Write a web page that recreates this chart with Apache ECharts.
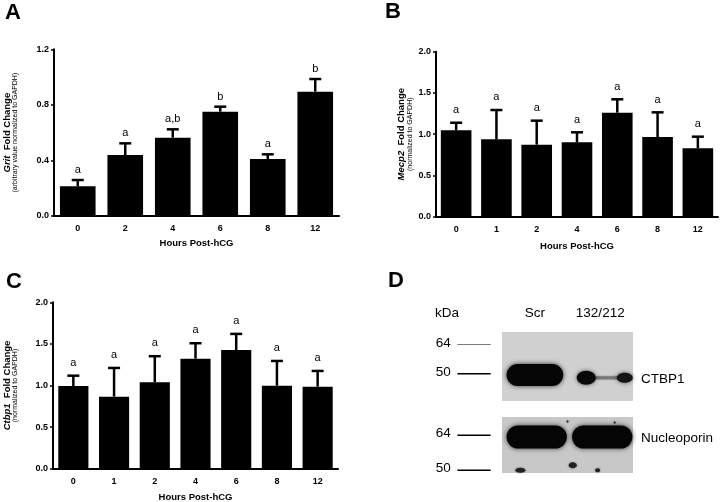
<!DOCTYPE html>
<html>
<head>
<meta charset="utf-8">
<script src="https://cdn.jsdelivr.net/npm/echarts@6/dist/echarts.min.js"></script>
<style>html,body{margin:0;padding:0;background:#fff;}#chart{width:720px;height:502px;}</style>
</head>
<body>
<div id="chart"></div>
<script>
// ---- data ----
const hoursA = ['0', '2', '4', '6', '8', '12'];
const gritMean = [0.214, 0.439, 0.564, 0.751, 0.410, 0.895];
const gritSem = [0.045, 0.084, 0.060, 0.036, 0.034, 0.091];
const gritLetters = ['a', 'a', 'a,b', 'b', 'a', 'b'];

const hoursBC = ['0', '1', '2', '4', '6', '8', '12'];
const mecp2Mean = [1.047, 0.938, 0.873, 0.901, 1.261, 0.966, 0.829];
const mecp2Sem = [0.092, 0.355, 0.291, 0.122, 0.162, 0.299, 0.141];
const mecp2Letters = ['a', 'a', 'a', 'a', 'a', 'a', 'a'];

const ctbp1Mean = [0.994, 0.866, 1.039, 1.323, 1.427, 0.998, 0.986];
const ctbp1Sem = [0.124, 0.345, 0.313, 0.185, 0.193, 0.297, 0.189];
const ctbp1Letters = ['a', 'a', 'a', 'a', 'a', 'a', 'a'];

const lanes = ['Scr', '132/212'];
const kdaMarkers = [64, 50];
const proteinNames = ['CTBP1', 'Nucleoporin'];
const ctbp1BandKda = [49.4, 48.1];
const ctbp1Intensity = [1.0, 0.3];
const nupBandKda = [63.3, 63.3];
const nupIntensity = [1.0, 1.0];

// ---- helpers ----
const FF = '"Liberation Sans", Arial, Helvetica, sans-serif';

function errSeries(xi, means, sems, letters, offset) {
  return {
    type: 'custom', xAxisIndex: xi, yAxisIndex: xi, z: 5, silent: true,
    data: means.map((m, i) => [i, m, m + sems[i]]),
    encode: { x: 0, y: [1, 2] },
    renderItem: function (params, api) {
      const p0 = api.coord([api.value(0), api.value(1)]);
      const p1 = api.coord([api.value(0), api.value(2)]);
      return {
        type: 'group', children: [
          { type: 'line', shape: { x1: p0[0], y1: p0[1], x2: p1[0], y2: p1[1] }, style: { stroke: '#000', lineWidth: 2.5 } },
          { type: 'line', shape: { x1: p1[0] - 6, y1: p1[1], x2: p1[0] + 6, y2: p1[1] }, style: { stroke: '#000', lineWidth: 2.5 } },
          { type: 'text', x: p1[0], y: p1[1] - offset, style: { text: letters[params.dataIndex], align: 'center', verticalAlign: 'middle', font: '11px ' + FF, fill: '#000' } }
        ]
      };
    }
  };
}

function barSeries(xi, means, w) {
  return { type: 'bar', xAxisIndex: xi, yAxisIndex: xi, data: means, barWidth: w, itemStyle: { color: '#000' }, silent: true, z: 3 };
}

function xAx(gi, cats, gap) {
  return {
    gridIndex: gi, type: 'category', data: cats,
    axisLine: { show: true, lineStyle: { color: '#000', width: 2 } },
    axisTick: { show: false },
    axisLabel: { fontSize: 9, fontWeight: 'bold', color: '#000', fontFamily: FF, margin: 8 },
    name: 'Hours Post-hCG', nameLocation: 'middle', nameGap: gap,
    nameTextStyle: { fontSize: 9.5, fontWeight: 'bold', color: '#000', fontFamily: FF }
  };
}

function yAx(gi, max, interval, gene, sub, gap) {
  return {
    gridIndex: gi, type: 'value', min: 0, max: max, interval: interval,
    axisLine: { show: true, lineStyle: { color: '#000', width: 2 } },
    axisTick: { show: true, length: 3, lineStyle: { color: '#000', width: 1.5 } },
    axisLabel: { formatter: v => v.toFixed(1), fontSize: 9, fontWeight: 'bold', color: '#000', fontFamily: FF, margin: 5 },
    splitLine: { show: false },
    name: '{it|' + gene + '}{b|  Fold Change}\n{s|' + sub + '}',
    nameLocation: 'middle', nameRotate: 90, nameGap: gap,
    nameTextStyle: {
      color: '#000', fontFamily: FF,
      rich: {
        it: { fontStyle: 'italic', fontWeight: 'bold', fontSize: 9.5, lineHeight: 10, fontFamily: FF, color: '#000' },
        b: { fontWeight: 'bold', fontSize: 9.5, lineHeight: 10, fontFamily: FF, color: '#000' },
        s: { fontSize: 7, lineHeight: 7, fontFamily: FF, color: '#000' }
      }
    }
  };
}

// blot background
function blotBg(gi, color, specks) {
  return {
    type: 'custom', xAxisIndex: gi, yAxisIndex: gi, z: 1, silent: true,
    data: [[0, 60]],
    renderItem: function (params, api) {
      const cs = params.coordSys;
      const ch = [{ type: 'rect', shape: { x: cs.x, y: cs.y, width: cs.width, height: cs.height }, style: { fill: color } }];
      (specks || []).forEach(s => ch.push({ type: 'ellipse', shape: { cx: cs.x + s[0] * cs.width, cy: cs.y + s[1] * cs.height, rx: s[2], ry: s[3] }, style: { fill: '#222', shadowBlur: 2, shadowColor: 'rgba(0,0,0,0.5)' } }));
      return { type: 'group', children: ch };
    }
  };
}

function blotMarkers(gi, thinFirst) {
  return {
    type: 'custom', xAxisIndex: gi, yAxisIndex: gi, z: 2, silent: true,
    data: kdaMarkers.map(k => [0, k]),
    renderItem: function (params, api) {
      const cs = params.coordSys;
      const y = api.coord([0, api.value(1)])[1];
      const thin = thinFirst && params.dataIndex === 0;
      return {
        type: 'group', children: [
          { type: 'line', shape: { x1: cs.x - 44.6, y1: y, x2: cs.x - 11.3, y2: y }, style: { stroke: thin ? '#777' : '#000', lineWidth: thin ? 1 : 1.4 } },
          { type: 'text', x: cs.x - 51.3, y: y - 1.5, style: { text: String(api.value(1)), align: 'right', verticalAlign: 'middle', font: '13.5px ' + FF, fill: '#000' } }
        ]
      };
    }
  };
}

function blotBands(gi, kda, intensity, name, halfL, halfR, h) {
  return {
    type: 'custom', xAxisIndex: gi, yAxisIndex: gi, z: 3, silent: true,
    data: kda.map((k, i) => [i, k, intensity[i]]),
    renderItem: function (params, api) {
      const cs = params.coordSys;
      const p = api.coord([api.value(0), api.value(1)]);
      const w = api.size([1, 0])[0];
      const inten = api.value(2);
      const ch = [];
      if (inten > 0.8) {
        ch.push({ type: 'rect', shape: { x: p[0] - halfL * w, y: p[1] - h / 2, width: (halfL + halfR) * w, height: h, r: h / 2 },
          style: { fill: '#050505', shadowBlur: 5, shadowColor: 'rgba(0,0,0,0.75)' } });
      } else {
        ch.push({ type: 'rect', shape: { x: p[0] - 6, y: p[1] - 1.5, width: 24, height: 3 }, style: { fill: '#777', shadowBlur: 2, shadowColor: 'rgba(0,0,0,0.4)' } });
        ch.push({ type: 'ellipse', shape: { cx: p[0] - 14, cy: p[1], rx: 9.5, ry: 7 }, style: { fill: '#080808', shadowBlur: 4, shadowColor: 'rgba(0,0,0,0.6)' } });
        ch.push({ type: 'ellipse', shape: { cx: p[0] + 24.5, cy: p[1], rx: 8, ry: 5 }, style: { fill: '#151515', shadowBlur: 4, shadowColor: 'rgba(0,0,0,0.6)' } });
      }
      if (params.dataIndex === kda.length - 1) {
        ch.push({ type: 'text', x: cs.x + cs.width + 8, y: p[1] + 1, style: { text: name, align: 'left', verticalAlign: 'middle', font: '13.5px ' + FF, fill: '#000' } });
      }
      return { type: 'group', children: ch };
    }
  };
}

const chart = echarts.init(document.getElementById('chart'), null, { renderer: 'canvas' });

const panelLetter = (t, x, y) => ({ type: 'text', x: x, y: y, style: { text: t, font: 'bold 22px ' + FF, fill: '#000', align: 'left', verticalAlign: 'middle' } });

chart.setOption({
  animation: false,
  backgroundColor: '#fff',
  grid: [
    { left: 54, top: 49.3, width: 285, height: 166.7, outerBoundsMode: 'none' },
    { left: 436, top: 51.7, width: 282, height: 165, outerBoundsMode: 'none' },
    { left: 53, top: 302.3, width: 285, height: 166.4, outerBoundsMode: 'none' },
    { left: 502, top: 332, width: 131, height: 69, outerBoundsMode: 'none' },
    { left: 502, top: 417, width: 131, height: 56, outerBoundsMode: 'none' }
  ],
  xAxis: [
    xAx(0, hoursA, 22),
    xAx(1, hoursBC, 25),
    xAx(2, hoursBC, 24),
    { gridIndex: 3, type: 'category', data: lanes, position: 'top', axisLine: { show: false }, axisTick: { show: false },
      axisLabel: { fontSize: 13.5, color: '#000', fontFamily: FF, margin: 12 } },
    { gridIndex: 4, type: 'category', data: lanes, show: false }
  ],
  yAxis: [
    yAx(0, 1.2, 0.4, 'Grit', '(arbitrary value normalized to GAPDH)', 35),
    yAx(1, 2.0, 0.5, 'Mecp2', '(normalized to GAPDH)', 22.5),
    yAx(2, 2.0, 0.5, 'Ctbp1', '(normalized to GAPDH)', 34),
    { gridIndex: 3, type: 'value', min: 37, max: 70, show: false },
    { gridIndex: 4, type: 'value', min: 48.9, max: 71.3, show: false }
  ],
  series: [
    barSeries(0, gritMean, '75%'),
    errSeries(0, gritMean, gritSem, gritLetters, 10),
    barSeries(1, mecp2Mean, '76%'),
    errSeries(1, mecp2Mean, mecp2Sem, mecp2Letters, 12.7),
    barSeries(2, ctbp1Mean, '74%'),
    errSeries(2, ctbp1Mean, ctbp1Sem, ctbp1Letters, 13),
    blotBg(3, '#d0d0d0', []),
    blotMarkers(3, true),
    blotBands(3, ctbp1BandKda, ctbp1Intensity, proteinNames[0], 0.43, 0.435, 22),
    blotBg(4, '#c8c8c8', [[0.14, 0.95, 5, 2.5], [0.54, 0.86, 4, 3], [0.73, 0.95, 2.5, 2], [0.5, 0.08, 1, 1], [0.86, 0.1, 1, 1]]),
    blotMarkers(4, false),
    blotBands(4, nupBandKda, nupIntensity, proteinNames[1], 0.43, 0.49, 23)
  ],
  graphic: [
    panelLetter('A', 5, 13),
    panelLetter('B', 385, 11.5),
    panelLetter('C', 6, 282),
    panelLetter('D', 388, 281),
    { type: 'text', x: 447, y: 313, style: { text: 'kDa', font: '13.5px ' + FF, fill: '#000', align: 'center', verticalAlign: 'middle' } }
  ]
});
</script>
</body>
</html>
